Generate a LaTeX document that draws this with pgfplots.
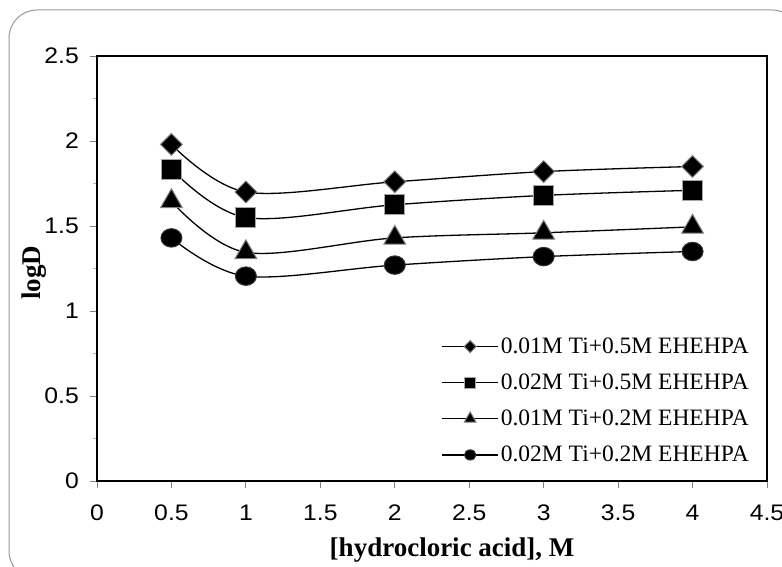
\documentclass[border=0pt]{standalone}
\usepackage{fontspec}
\setmainfont{Liberation Serif}
\newfontfamily\arial{Liberation Sans}
\usepackage{pgfplots}
\pgfplotsset{compat=1.18}

\newcommand{\tickfont}[1]{\scalebox{1.1}[1]{\arial\fontsize{22.5}{22.5}\selectfont #1}}

\begin{document}
\begin{tikzpicture}[x=1pt,y=1pt]
\useasboundingbox (0,0) rectangle (782,567);
\begin{scope}
  \clip (0,0) rectangle (782,567);
  \draw[gray!80, line width=1pt, rounded corners=28pt] (9,-12) rectangle (800,557);
\end{scope}
\begin{axis}[
    at={(97pt,86pt)}, anchor=south west,
    scale only axis, width=670pt, height=425pt,
    xmin=0, xmax=4.5, ymin=0, ymax=2.5,
    xtick={0,0.5,...,4.5}, ytick={0,0.5,...,2.5},
    minor y tick num=1,
    tick align=outside, tick pos=left,
    axis line style={line width=1.8pt},
    major tick style={gray, line width=0.8pt},
    minor tick style={gray!60, line width=0.6pt},
    major tick length=7pt, minor tick length=4pt,
    xticklabel={\tickfont{\pgfmathprintnumber[assume math mode=true]{\tick}}},
    yticklabel={\tickfont{\pgfmathprintnumber[assume math mode=true]{\tick}}},
    xticklabel style={inner sep=0pt, anchor=north, yshift=-17pt},
    yticklabel style={inner sep=0pt, anchor=east, xshift=-11pt},
    xlabel={\textbf{[hydrocloric acid], M}},
    ylabel={\textbf{logD}},
    label style={font=\fontsize{27}{27}\selectfont},
    xlabel style={at={(axis description cs:0.53,0)}, anchor=base, yshift=-76pt},
    ylabel style={at={(axis description cs:-0.094,0.49)}, anchor=center},
    legend style={draw=none, fill=none, font=\fontsize{23.5}{23.5}\selectfont,
        at={(0.976,0.036)}, anchor=south east,
        row sep=15pt, inner sep=0pt, legend cell align=left},
    legend image code/.code={
        \draw[mark repeat=2, mark phase=2, /tikz/every mark/.append style={scale=0.55}]
        plot coordinates {(0pt,0pt) (28pt,0pt) (56pt,0pt)};},
]
\addplot[black, line width=1.3pt, smooth, tension=0.55,
    mark=square*, mark size=7.7, mark options={solid, rotate=45, fill=black, draw=gray, line width=1pt}] coordinates {
    (0.5,1.98) (1,1.70) (2,1.76) (3,1.82) (4,1.85)};
\addlegendentry{0.01M Ti+0.5M EHEHPA}
\addplot[black, line width=1.3pt, smooth, tension=0.55,
    mark=square*, mark size=10, mark options={solid, fill=black, draw=gray!70, line width=1pt}] coordinates {
    (0.5,1.835) (1,1.55) (2,1.625) (3,1.68) (4,1.71)};
\addlegendentry{0.02M Ti+0.5M EHEHPA}
\addplot[black, line width=1.3pt, smooth, tension=0.55,
    mark=triangle*, mark size=12.5, mark options={solid, fill=black, draw=gray, line width=1pt}] coordinates {
    (0.5,1.645) (1,1.345) (2,1.43) (3,1.46) (4,1.495)};
\addlegendentry{0.01M Ti+0.2M EHEHPA}
\addplot[black, line width=1.3pt, smooth, tension=0.55,
    mark=*, mark size=10.5, mark options={solid, yscale=0.88, fill=black, draw=black!80, line width=1pt}] coordinates {
    (0.5,1.43) (1,1.205) (2,1.27) (3,1.32) (4,1.35)};
\addlegendentry{0.02M Ti+0.2M EHEHPA}
\end{axis}
\end{tikzpicture}
\end{document}
